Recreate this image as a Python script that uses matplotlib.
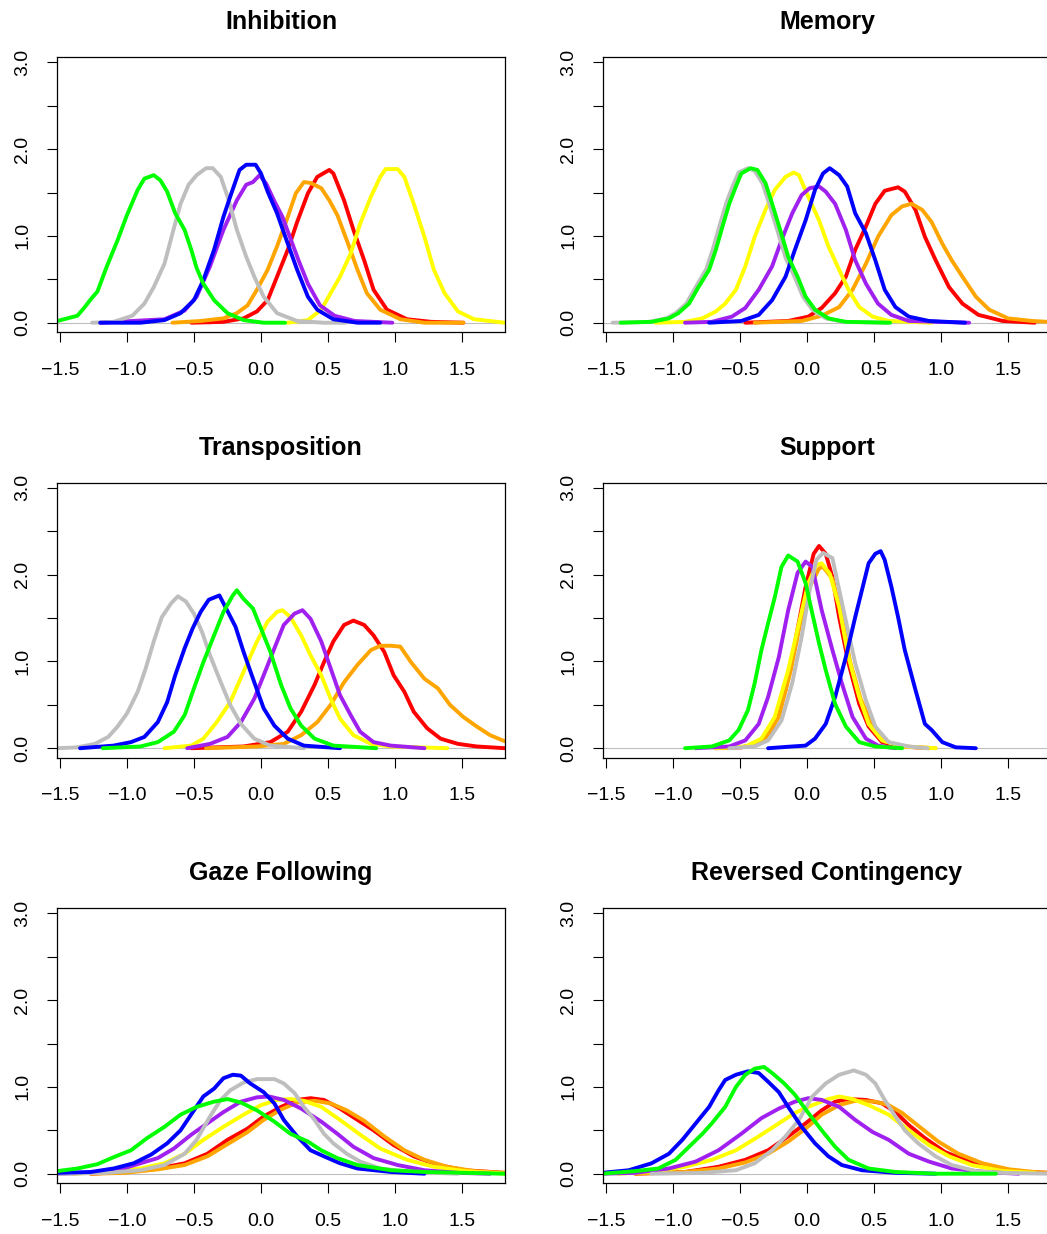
import matplotlib
matplotlib.use("Agg")
import matplotlib.pyplot as plt

plt.rcParams["font.family"] = ["Liberation Sans", "DejaVu Sans"]

# group colours (R named colours)
COLORS = {
    "red": "#FF0000",
    "orange": "#FFA500",
    "yellow": "#FFFF00",
    "purple": "#A020F0",
    "gray": "#BEBEBE",
    "blue": "#0000FF",
    "green": "#00FF00",
}
DRAW_ORDER = ["red", "orange", "yellow", "purple", "gray", "blue", "green"]

TITLES = ["Inhibition", "Memory", "Transposition", "Support",
          "Gaze Following", "Reversed Contingency"]

X_TICKS = [-1.5, -1.0, -0.5, 0.0, 0.5, 1.0, 1.5]
Y_TICKS = [0.0, 0.5, 1.0, 1.5, 2.0, 2.5, 3.0]
Y_LABELS = ["0.0", "", "1.0", "", "2.0", "", "3.0"]

# density curves: colour -> (x, density)
INHIBITION = {
    "green": ([-1.52, -1.42, -1.37, -1.32, -1.27, -1.22, -1.15, -1.07, -1.00, -0.92, -0.87, -0.80,
               -0.75, -0.70, -0.64, -0.57, -0.52, -0.48, -0.43, -0.35, -0.25, -0.13, 0.02, 0.18],
              [0.02, 0.06, 0.08, 0.17, 0.27, 0.36, 0.65, 0.95, 1.24, 1.53, 1.66, 1.70,
               1.64, 1.51, 1.26, 1.07, 0.84, 0.63, 0.45, 0.26, 0.11, 0.03, 0.0, 0.0]),
    "gray": ([-1.26, -1.10, -0.96, -0.87, -0.80, -0.72, -0.66, -0.60, -0.54, -0.48, -0.41,
              -0.36, -0.30, -0.24, -0.18, -0.11, -0.05, 0.02, 0.12, 0.27, 0.47, 0.63],
             [0, 0.01, 0.08, 0.22, 0.41, 0.68, 1.03, 1.37, 1.59, 1.70, 1.78,
              1.78, 1.68, 1.41, 1.07, 0.76, 0.53, 0.30, 0.11, 0.02, 0, 0]),
    "blue": ([-1.20, -0.90, -0.72, -0.60, -0.50, -0.43, -0.35, -0.28, -0.23, -0.16, -0.11,
              -0.04, 0.00, 0.05, 0.12, 0.20, 0.27, 0.35, 0.42, 0.54, 0.72, 0.89],
             [0, 0, 0.03, 0.11, 0.26, 0.49, 0.84, 1.22, 1.45, 1.76, 1.82,
              1.82, 1.72, 1.51, 1.26, 0.91, 0.61, 0.30, 0.15, 0.04, 0, 0]),
    "purple": ([-1.20, -0.72, -0.57, -0.48, -0.38, -0.28, -0.18, -0.11, -0.06, -0.01, 0.04,
                0.10, 0.16, 0.22, 0.28, 0.35, 0.44, 0.55, 0.70, 0.98],
               [0, 0.04, 0.14, 0.30, 0.65, 1.07, 1.41, 1.59, 1.62, 1.70, 1.60,
                1.40, 1.22, 0.97, 0.72, 0.45, 0.20, 0.08, 0.02, 0]),
    "orange": ([-0.66, -0.45, -0.28, -0.18, -0.10, -0.03, 0.05, 0.12, 0.20, 0.26, 0.32,
                0.37, 0.45, 0.51, 0.57, 0.65, 0.72, 0.79, 0.89, 1.04, 1.22, 1.51],
               [0, 0.02, 0.05, 0.11, 0.20, 0.38, 0.61, 0.88, 1.22, 1.49, 1.62,
                1.61, 1.55, 1.41, 1.24, 0.91, 0.61, 0.34, 0.15, 0.04, 0, 0]),
    "red": ([-0.52, -0.28, -0.13, -0.03, 0.05, 0.12, 0.20, 0.27, 0.35, 0.42, 0.51, 0.54,
             0.62, 0.69, 0.77, 0.84, 0.94, 1.09, 1.27, 1.51],
            [0, 0.01, 0.05, 0.13, 0.26, 0.53, 0.84, 1.16, 1.49, 1.68, 1.76, 1.72,
             1.41, 1.07, 0.72, 0.38, 0.15, 0.04, 0.01, 0]),
    "yellow": ([0.20, 0.35, 0.45, 0.52, 0.59, 0.67, 0.74, 0.82, 0.89, 0.93, 1.02, 1.07,
                1.14, 1.22, 1.29, 1.37, 1.47, 1.59, 1.82],
               [0, 0.03, 0.15, 0.34, 0.53, 0.80, 1.14, 1.45, 1.68, 1.77, 1.77, 1.68,
                1.37, 0.99, 0.61, 0.34, 0.13, 0.04, 0]),
}

MEMORY = {
    "green": ([-1.39, -1.16, -1.03, -0.96, -0.88, -0.81, -0.73, -0.68, -0.63, -0.58, -0.53, -0.49,
               -0.42, -0.37, -0.31, -0.26, -0.20, -0.14, -0.07, -0.01, 0.06, 0.16, 0.29, 0.62],
              [0, 0.01, 0.05, 0.11, 0.22, 0.41, 0.61, 0.84, 1.11, 1.37, 1.57, 1.72,
               1.78, 1.76, 1.61, 1.37, 1.07, 0.76, 0.53, 0.30, 0.15, 0.05, 0.01, 0]),
    "gray": ([-1.45, -1.18, -1.05, -0.98, -0.90, -0.83, -0.75, -0.70, -0.65, -0.60, -0.55, -0.51,
              -0.44, -0.39, -0.33, -0.28, -0.22, -0.16, -0.09, -0.03, 0.04, 0.14, 0.27, 0.60],
             [0, 0.01, 0.05, 0.11, 0.22, 0.41, 0.62, 0.86, 1.13, 1.39, 1.59, 1.73,
              1.78, 1.75, 1.60, 1.36, 1.06, 0.75, 0.52, 0.30, 0.15, 0.05, 0.01, 0]),
    "yellow": ([-1.13, -0.91, -0.78, -0.68, -0.61, -0.53, -0.46, -0.39, -0.31, -0.24, -0.16,
                -0.10, -0.06, 0.01, 0.09, 0.16, 0.24, 0.31, 0.39, 0.49, 0.61, 0.93],
               [0, 0.01, 0.05, 0.13, 0.22, 0.38, 0.65, 0.99, 1.30, 1.53, 1.68,
                1.73, 1.70, 1.45, 1.18, 0.88, 0.61, 0.38, 0.18, 0.07, 0.02, 0]),
    "purple": ([-0.91, -0.71, -0.56, -0.46, -0.36, -0.26, -0.19, -0.11, -0.04, 0.02, 0.09,
                0.14, 0.21, 0.29, 0.36, 0.44, 0.53, 0.63, 0.76, 1.21],
               [0, 0.01, 0.07, 0.17, 0.38, 0.65, 0.95, 1.26, 1.47, 1.55, 1.57,
                1.51, 1.37, 1.07, 0.72, 0.45, 0.22, 0.09, 0.02, 0]),
    "blue": ([-0.73, -0.49, -0.36, -0.26, -0.16, -0.09, -0.01, 0.06, 0.12, 0.17, 0.24,
              0.30, 0.36, 0.44, 0.51, 0.58, 0.66, 0.76, 0.91, 1.18],
             [0, 0.02, 0.09, 0.26, 0.53, 0.84, 1.18, 1.53, 1.72, 1.78, 1.70,
              1.57, 1.26, 1.03, 0.72, 0.38, 0.18, 0.07, 0.02, 0]),
    "red": ([-0.46, -0.14, 0.01, 0.11, 0.21, 0.29, 0.36, 0.44, 0.51, 0.58, 0.68,
             0.73, 0.81, 0.88, 0.96, 1.06, 1.16, 1.28, 1.46, 1.70],
            [0, 0.02, 0.07, 0.17, 0.34, 0.53, 0.84, 1.11, 1.37, 1.52, 1.56,
             1.51, 1.30, 0.99, 0.72, 0.41, 0.22, 0.09, 0.02, 0]),
    "orange": ([-0.39, -0.04, 0.11, 0.24, 0.34, 0.44, 0.53, 0.63, 0.71, 0.78, 0.86,
                0.93, 1.01, 1.08, 1.16, 1.26, 1.36, 1.50, 1.68, 1.80],
               [0, 0.02, 0.08, 0.18, 0.38, 0.68, 0.99, 1.24, 1.34, 1.37, 1.30,
                1.16, 0.91, 0.72, 0.53, 0.30, 0.15, 0.05, 0.02, 0.01]),
}

TRANSPOSITION = {
    "gray": ([-1.52, -1.37, -1.24, -1.14, -1.07, -1.00, -0.92, -0.86, -0.80, -0.74, -0.67,
              -0.62, -0.56, -0.50, -0.44, -0.38, -0.30, -0.23, -0.15, -0.05, 0.07, 0.32],
             [0, 0.01, 0.05, 0.13, 0.25, 0.40, 0.65, 0.92, 1.23, 1.51, 1.67,
              1.75, 1.69, 1.55, 1.34, 1.07, 0.76, 0.50, 0.28, 0.11, 0.03, 0]),
    "blue": ([-1.35, -1.10, -0.97, -0.87, -0.77, -0.70, -0.64, -0.57, -0.51, -0.45, -0.39,
              -0.31, -0.26, -0.19, -0.13, -0.05, 0.02, 0.10, 0.20, 0.32, 0.59],
             [0, 0.03, 0.07, 0.13, 0.30, 0.53, 0.84, 1.15, 1.38, 1.57, 1.71,
              1.76, 1.61, 1.40, 1.11, 0.76, 0.46, 0.26, 0.11, 0.03, 0]),
    "green": ([-1.18, -0.90, -0.77, -0.65, -0.57, -0.50, -0.43, -0.35, -0.28, -0.21, -0.18,
               -0.13, -0.06, 0.00, 0.07, 0.15, 0.22, 0.30, 0.40, 0.54, 0.86],
              [0, 0.02, 0.07, 0.19, 0.38, 0.69, 0.99, 1.30, 1.57, 1.76, 1.82,
               1.72, 1.61, 1.38, 1.11, 0.73, 0.46, 0.26, 0.11, 0.03, 0]),
    "yellow": ([-0.72, -0.52, -0.43, -0.33, -0.23, -0.13, -0.03, 0.05, 0.12, 0.16, 0.22,
                0.30, 0.37, 0.45, 0.52, 0.59, 0.69, 0.82, 0.97, 1.39],
               [0, 0.03, 0.11, 0.30, 0.53, 0.88, 1.23, 1.46, 1.57, 1.59, 1.51,
                1.30, 1.07, 0.84, 0.57, 0.34, 0.15, 0.05, 0.02, 0]),
    "purple": ([-0.55, -0.38, -0.25, -0.15, -0.05, 0.02, 0.10, 0.17, 0.25, 0.31, 0.37,
                0.45, 0.52, 0.59, 0.67, 0.74, 0.84, 0.97, 1.22],
               [0, 0.05, 0.13, 0.30, 0.57, 0.84, 1.15, 1.42, 1.55, 1.59, 1.49,
                1.23, 0.92, 0.61, 0.38, 0.19, 0.07, 0.03, 0]),
    "red": ([-0.52, -0.13, 0.07, 0.20, 0.30, 0.40, 0.47, 0.54, 0.62, 0.69, 0.77,
             0.84, 0.92, 0.99, 1.07, 1.14, 1.24, 1.34, 1.47, 1.61, 1.82],
            [0, 0.02, 0.07, 0.19, 0.42, 0.73, 0.99, 1.23, 1.42, 1.47, 1.42,
             1.30, 1.11, 0.84, 0.65, 0.42, 0.23, 0.11, 0.05, 0.02, 0.0]),
    "orange": ([-0.41, -0.03, 0.17, 0.30, 0.42, 0.52, 0.62, 0.72, 0.82, 0.89, 0.97,
                1.04, 1.12, 1.22, 1.32, 1.41, 1.51, 1.61, 1.71, 1.82],
               [0, 0.02, 0.05, 0.15, 0.30, 0.50, 0.76, 0.96, 1.13, 1.18, 1.18,
                1.17, 0.99, 0.80, 0.69, 0.50, 0.36, 0.25, 0.15, 0.08]),
}

SUPPORT = {
    "green": ([-0.91, -0.71, -0.58, -0.51, -0.44, -0.39, -0.34, -0.29, -0.24, -0.19, -0.14,
               -0.07, -0.01, 0.04, 0.09, 0.14, 0.21, 0.29, 0.39, 0.51, 0.71],
              [0, 0.02, 0.09, 0.21, 0.44, 0.75, 1.13, 1.44, 1.74, 2.09, 2.22,
               2.15, 1.90, 1.55, 1.21, 0.90, 0.51, 0.25, 0.07, 0.02, 0]),
    "purple": ([-0.83, -0.58, -0.46, -0.36, -0.29, -0.21, -0.14, -0.07, -0.01, 0.04, 0.11,
                0.19, 0.26, 0.34, 0.44, 0.53, 0.66],
               [0, 0.02, 0.09, 0.28, 0.59, 1.05, 1.59, 2.02, 2.15, 2.09, 1.59,
                1.13, 0.75, 0.36, 0.11, 0.03, 0]),
    "red": ([-0.68, -0.49, -0.36, -0.26, -0.16, -0.09, -0.01, 0.05, 0.09, 0.14, 0.19,
             0.24, 0.31, 0.39, 0.46, 0.56, 0.71, 0.91],
            [0, 0.01, 0.05, 0.21, 0.67, 1.21, 1.86, 2.24, 2.33, 2.24, 1.97,
             1.51, 0.98, 0.51, 0.25, 0.07, 0.02, 0]),
    "yellow": ([-0.68, -0.46, -0.34, -0.24, -0.14, -0.06, 0.01, 0.07, 0.11, 0.17, 0.24,
                0.31, 0.39, 0.46, 0.56, 0.71, 0.96],
               [0, 0.02, 0.11, 0.36, 0.90, 1.44, 1.90, 2.11, 2.13, 2.01, 1.63,
                1.05, 0.59, 0.28, 0.09, 0.02, 0]),
    "orange": ([-0.63, -0.44, -0.31, -0.21, -0.12, -0.05, 0.02, 0.09, 0.12, 0.19, 0.25,
                0.32, 0.40, 0.49, 0.58, 0.73, 0.96],
               [0, 0.02, 0.11, 0.36, 0.90, 1.44, 1.86, 2.07, 2.09, 1.95, 1.59,
                1.01, 0.57, 0.26, 0.08, 0.02, 0]),
    "gray": ([-0.58, -0.39, -0.29, -0.19, -0.11, -0.04, 0.02, 0.07, 0.12, 0.19, 0.22,
              0.29, 0.36, 0.44, 0.51, 0.61, 0.76, 0.90],
             [0, 0.02, 0.09, 0.32, 0.75, 1.28, 1.82, 2.17, 2.25, 2.19, 1.97,
              1.47, 0.98, 0.55, 0.25, 0.07, 0.02, 0]),
    "blue": ([-0.29, -0.11, -0.01, 0.06, 0.14, 0.21, 0.29, 0.36, 0.41, 0.46, 0.51,
              0.55, 0.58, 0.63, 0.68, 0.73, 0.81, 0.88, 0.93, 1.01, 1.11, 1.26],
             [0, 0.02, 0.03, 0.11, 0.28, 0.59, 1.05, 1.51, 1.82, 2.13, 2.24,
              2.27, 2.17, 1.86, 1.51, 1.13, 0.67, 0.28, 0.21, 0.07, 0.01, 0]),
}

GAZE = {
    "green": ([-1.52, -1.37, -1.22, -1.10, -0.97, -0.85, -0.72, -0.60, -0.48, -0.35, -0.25,
               -0.15, -0.03, 0.10, 0.22, 0.35, 0.45, 0.57, 0.72, 0.97, 1.22, 1.82],
              [0.03, 0.06, 0.11, 0.19, 0.27, 0.41, 0.54, 0.68, 0.77, 0.83, 0.86,
               0.82, 0.73, 0.60, 0.46, 0.37, 0.27, 0.18, 0.10, 0.04, 0.02, 0.0]),
    "blue": ([-1.52, -1.27, -1.10, -0.95, -0.82, -0.70, -0.60, -0.50, -0.43, -0.35, -0.28,
              -0.21, -0.15, -0.08, 0.02, 0.10, 0.17, 0.27, 0.37, 0.47, 0.59, 0.72, 0.97, 1.22],
             [0.01, 0.02, 0.06, 0.12, 0.22, 0.35, 0.50, 0.73, 0.89, 0.98, 1.10,
              1.14, 1.13, 1.04, 0.94, 0.81, 0.62, 0.43, 0.27, 0.20, 0.12, 0.06, 0.02, 0.0]),
    "gray": ([-1.52, -1.15, -0.90, -0.72, -0.57, -0.48, -0.38, -0.30, -0.23, -0.13, -0.03,
              0.10, 0.17, 0.25, 0.32, 0.40, 0.47, 0.54, 0.64, 0.74, 0.89, 1.12, 1.47],
             [0, 0.01, 0.04, 0.10, 0.23, 0.39, 0.66, 0.85, 0.96, 1.05, 1.09,
              1.09, 1.04, 0.93, 0.77, 0.62, 0.46, 0.35, 0.23, 0.14, 0.06, 0.02, 0]),
    "purple": ([-1.52, -1.27, -1.07, -0.90, -0.77, -0.65, -0.52, -0.40, -0.28, -0.15, -0.03,
                0.06, 0.17, 0.30, 0.45, 0.57, 0.69, 0.84, 1.02, 1.22, 1.47, 1.71],
               [0, 0.01, 0.04, 0.12, 0.18, 0.29, 0.45, 0.58, 0.71, 0.83, 0.88,
                0.89, 0.85, 0.75, 0.60, 0.46, 0.31, 0.18, 0.10, 0.04, 0.01, 0]),
    "yellow": ([-1.40, -1.15, -0.90, -0.72, -0.57, -0.43, -0.28, -0.13, 0.00, 0.12, 0.22,
                0.32, 0.45, 0.59, 0.74, 0.89, 1.09, 1.29, 1.52, 1.82],
               [0, 0.02, 0.06, 0.12, 0.23, 0.39, 0.54, 0.68, 0.79, 0.85, 0.86,
                0.84, 0.77, 0.62, 0.45, 0.29, 0.16, 0.08, 0.03, 0]),
    "red": ([-1.27, -1.02, -0.77, -0.57, -0.40, -0.25, -0.10, 0.02, 0.15, 0.27, 0.37,
             0.47, 0.59, 0.72, 0.84, 0.99, 1.14, 1.32, 1.52, 1.82],
            [0, 0.02, 0.06, 0.12, 0.23, 0.39, 0.52, 0.66, 0.77, 0.85, 0.87,
             0.85, 0.75, 0.62, 0.50, 0.33, 0.20, 0.10, 0.04, 0.01]),
    "orange": ([-1.27, -1.02, -0.77, -0.57, -0.40, -0.25, -0.10, 0.02, 0.15, 0.27, 0.40,
                0.52, 0.64, 0.77, 0.92, 1.07, 1.22, 1.39, 1.59, 1.82],
               [0, 0.01, 0.05, 0.10, 0.20, 0.34, 0.48, 0.62, 0.74, 0.82, 0.84,
                0.81, 0.73, 0.61, 0.43, 0.27, 0.16, 0.08, 0.03, 0.01]),
}

REVERSED = {
    "blue": ([-1.53, -1.33, -1.16, -1.03, -0.93, -0.83, -0.73, -0.66, -0.61, -0.53, -0.44,
              -0.36, -0.29, -0.21, -0.14, -0.04, 0.06, 0.16, 0.26, 0.41, 0.66, 0.96],
             [0.01, 0.04, 0.12, 0.23, 0.39, 0.58, 0.77, 0.96, 1.08, 1.14, 1.18,
              1.16, 1.06, 0.94, 0.77, 0.54, 0.35, 0.20, 0.10, 0.04, 0.01, 0]),
    "green": ([-1.53, -1.28, -1.11, -0.98, -0.88, -0.78, -0.71, -0.61, -0.53, -0.46, -0.39,
               -0.32, -0.26, -0.17, -0.09, 0.01, 0.11, 0.21, 0.31, 0.46, 0.66, 0.96, 1.41],
              [0, 0.03, 0.06, 0.16, 0.31, 0.46, 0.58, 0.77, 1.00, 1.14, 1.21,
               1.23, 1.16, 1.04, 0.91, 0.70, 0.50, 0.31, 0.16, 0.06, 0.02, 0.0, 0]),
    "gray": ([-1.16, -0.78, -0.53, -0.39, -0.26, -0.16, -0.06, 0.04, 0.14, 0.24, 0.35,
              0.44, 0.51, 0.58, 0.66, 0.73, 0.83, 0.96, 1.08, 1.26, 1.46, 1.81],
             [0, 0.01, 0.04, 0.12, 0.27, 0.43, 0.62, 0.89, 1.04, 1.14, 1.19,
              1.14, 1.04, 0.85, 0.66, 0.50, 0.35, 0.20, 0.10, 0.03, 0.01, 0]),
    "purple": ([-1.53, -1.28, -1.03, -0.83, -0.66, -0.49, -0.34, -0.21, -0.09, 0.01, 0.11,
                0.24, 0.36, 0.49, 0.61, 0.76, 0.91, 1.08, 1.33, 1.58],
               [0, 0.01, 0.06, 0.14, 0.27, 0.46, 0.64, 0.75, 0.83, 0.87, 0.85,
                0.77, 0.62, 0.48, 0.39, 0.23, 0.14, 0.06, 0.02, 0]),
    "yellow": ([-1.41, -1.16, -0.91, -0.71, -0.53, -0.36, -0.21, -0.09, 0.04, 0.16, 0.24,
                0.34, 0.46, 0.61, 0.76, 0.91, 1.06, 1.23, 1.46, 1.70],
               [0, 0.02, 0.08, 0.16, 0.27, 0.43, 0.58, 0.70, 0.79, 0.86, 0.89,
                0.86, 0.79, 0.68, 0.50, 0.33, 0.20, 0.10, 0.03, 0.01]),
    "red": ([-1.28, -0.91, -0.66, -0.46, -0.29, -0.14, -0.01, 0.11, 0.21, 0.31, 0.44,
             0.56, 0.66, 0.76, 0.88, 1.03, 1.21, 1.41, 1.63, 1.81],
            [0, 0.02, 0.08, 0.16, 0.27, 0.43, 0.58, 0.73, 0.83, 0.86, 0.85,
             0.81, 0.71, 0.56, 0.41, 0.25, 0.14, 0.06, 0.02, 0.01]),
    "orange": ([-1.28, -0.91, -0.66, -0.46, -0.29, -0.14, -0.01, 0.11, 0.24, 0.36, 0.51,
                0.61, 0.71, 0.84, 0.98, 1.13, 1.31, 1.51, 1.70, 1.81],
               [0, 0.02, 0.06, 0.13, 0.23, 0.37, 0.52, 0.68, 0.79, 0.84, 0.83,
                0.79, 0.70, 0.54, 0.37, 0.23, 0.12, 0.05, 0.02, 0.01]),
}

PANELS = [INHIBITION, MEMORY, TRANSPOSITION, SUPPORT, GAZE, REVERSED]

W, H = 1047, 1234
fig = plt.figure(figsize=(W / 100, H / 100), dpi=100)

# panel boxes in pixels: (left, top, right, bottom)
col_edges = [(57, 505), (603, 1051)]
row_edges = [(57, 332), (482.5, 757.5), (908, 1183)]

for i, (title, curves) in enumerate(zip(TITLES, PANELS)):
    r, c = divmod(i, 2)
    l, rt = col_edges[c]
    t, b = row_edges[r]
    ax = fig.add_axes([l / W, 1 - b / H, (rt - l) / W, (b - t) / H])

    ax.axhline(0, color="#BEBEBE", lw=0.8, zorder=1)
    for name in DRAW_ORDER:
        xs, ys = curves[name]
        ax.plot(xs, ys, color=COLORS[name], lw=2.8,
                solid_capstyle="round", solid_joinstyle="round", zorder=2)

    ax.set_xlim(-1.522, 1.821)
    ax.set_ylim(-0.107, 3.061)
    ax.set_xticks(X_TICKS)
    ax.set_xticklabels([f"{v:.1f}".replace("-", "\u2212") for v in X_TICKS])
    ax.set_yticks(Y_TICKS)
    ax.set_yticklabels(Y_LABELS, rotation=90, va="center")
    ax.tick_params(direction="out", length=7.5, width=0.8, labelsize=14, color="black")
    ax.tick_params(axis="x", pad=14)
    ax.tick_params(axis="y", pad=11)
    for sp in ax.spines.values():
        sp.set_linewidth(0.9)
    ax.set_title(title, fontsize=18, fontweight="bold", pad=20)

fig.savefig("out.png", dpi=100)
